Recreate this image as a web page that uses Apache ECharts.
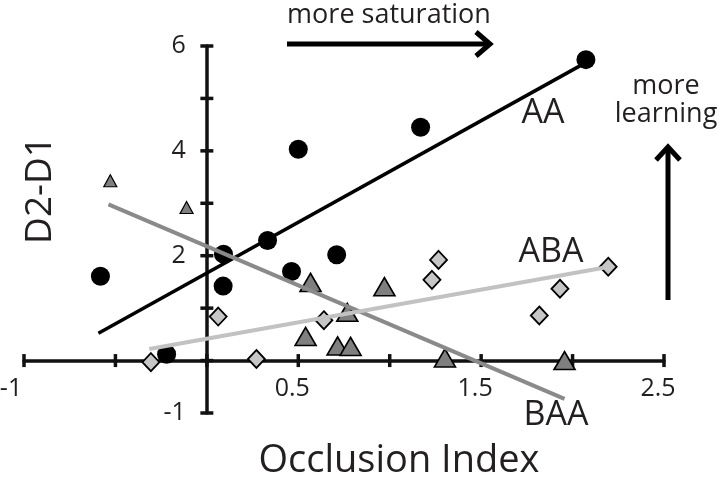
<!DOCTYPE html>
<html>
<head>
<meta charset="utf-8">
<script src="https://cdn.jsdelivr.net/npm/echarts@6/dist/echarts.min.js"></script>
<style>
  html, body { margin: 0; padding: 0; background: #fff; }
  #chart { width: 720px; height: 482px; }
</style>
</head>
<body>
<div id="chart"></div>
<script>
// ---- data ----
const xTicks = [-1, -0.5, 0, 0.5, 1, 1.5, 2, 2.5];
const xTickLabels = ['-1', '0.5', '1.5', '2.5'];
const yTicks = [-1, 0, 1, 2, 3, 4, 5, 6];
const yTickLabels = ['6', '4', '2', '-1'];

// AA (black circles)
const aaPoints = [
  [-0.582, 1.61], [-0.220, 0.12], [0.091, 2.03], [0.089, 1.42], [0.332, 2.29],
  [0.500, 4.03], [0.463, 1.70], [0.710, 2.02], [1.169, 4.45], [2.073, 5.74]
];
// BAA (dark grey triangles)
const baaOutliers = [[-0.528, 3.43], [-0.111, 2.92]];
const baaPoints = [
  [0.567, 1.49], [0.971, 1.41], [0.768, 0.92], [0.540, 0.46], [0.715, 0.28],
  [0.786, 0.27], [1.302, 0.05], [1.956, 0.00]
];
// ABA (light grey diamonds)
const abaPoints = [
  [-0.306, -0.03], [0.062, 0.84], [0.271, 0.03], [0.640, 0.77], [1.267, 1.92],
  [1.231, 1.54], [2.195, 1.79], [1.931, 1.37], [1.818, 0.86]
];
// regression line end points
const aaFit = [[-0.593, 0.52], [2.05, 5.64]];
const baaFit = [[-0.538, 2.98], [1.956, -0.73]];
const abaFit = [[-0.315, 0.22], [2.17, 1.77]];

const seriesNames = ['AA', 'ABA', 'BAA'];
const xTitle = 'Occlusion Index';
const yTitle = 'D2-D1';
const noteX = 'more saturation';
const noteY = 'more\nlearning';

// ---- chart ----
const FONT = 'Open Sans';
const TXT = '#231f20';
const AX = '#111';

const X_MIN = -1, X_MAX = 2.5, Y_MIN = -1, Y_MAX = 6;
const G = { left: 24, top: 46, width: 640, height: 367 };
// move the axes so they cross at the origin
const yAxisOffset = -G.width * (0 - X_MIN) / (X_MAX - X_MIN);
const xAxisOffset = -G.height * (0 - Y_MIN) / (Y_MAX - Y_MIN);

const chart = echarts.init(document.getElementById('chart'), null, { renderer: 'canvas' });

function tickSeries(vals, isX) {
  return {
    type: 'custom',
    silent: true,
    z: 1,
    clip: false,
    data: vals.map(v => isX ? [v, 0] : [0, v]),
    renderItem: function (params, api) {
      const p = api.coord([api.value(0), api.value(1)]);
      const h = 6.5;
      return {
        type: 'line',
        shape: isX ? { x1: p[0], y1: p[1] - h, x2: p[0], y2: p[1] + h }
                   : { x1: p[0] - h, y1: p[1], x2: p[0] + h, y2: p[1] },
        style: { stroke: AX, lineWidth: 3.5 }
      };
    }
  };
}

function fmtX(v) {
  const s = String(v);
  if (xTickLabels.indexOf(s) < 0) return '';
  return v < 0 ? '{neg|' + s + '}' : s;
}
function fmtY(v) {
  const s = String(v);
  return yTickLabels.indexOf(s) >= 0 ? s : '';
}

const option = {
  animation: false,
  backgroundColor: '#fff',
  textStyle: { fontFamily: FONT },
  grid: Object.assign({ containLabel: false, outerBoundsMode: 'none' }, G),
  xAxis: {
    type: 'value', min: X_MIN, max: X_MAX, interval: 0.5,
    position: 'bottom', offset: xAxisOffset,
    axisLine: { show: true, onZero: false, lineStyle: { color: AX, width: 3.5 } },
    axisTick: { show: false },
    splitLine: { show: false },
    axisLabel: {
      formatter: fmtX, fontSize: 25, color: TXT, fontFamily: FONT,
      margin: 16, padding: [0, 12, 0, 0],
      rich: { neg: { fontSize: 25, color: TXT, fontFamily: FONT, padding: [0, 14, 0, 0] } }
    },
    name: xTitle, nameLocation: 'middle', nameGap: 82,
    nameTextStyle: { fontSize: 38, color: TXT, fontFamily: FONT, padding: [0, 0, 0, 110] }
  },
  yAxis: {
    type: 'value', min: Y_MIN, max: Y_MAX, interval: 1,
    position: 'left', offset: yAxisOffset,
    axisLine: { show: true, onZero: false, lineStyle: { color: AX, width: 3.5 } },
    axisTick: { show: false },
    splitLine: { show: false },
    axisLabel: {
      formatter: fmtY, fontSize: 25, color: TXT, fontFamily: FONT, margin: 21
    },
    name: yTitle, nameLocation: 'middle', nameGap: 148,
    nameTextStyle: { fontSize: 37, color: TXT, fontFamily: FONT, padding: [0, 0, 0, 79] }
  },
  series: [
    tickSeries(xTicks, true),
    tickSeries(yTicks, false),
    {
      name: seriesNames[0], type: 'scatter', z: 2, symbol: 'circle', symbolSize: 19,
      itemStyle: { color: '#000', opacity: 1 }, data: aaPoints
    },
    {
      name: seriesNames[2], type: 'scatter', z: 2, symbol: 'triangle', symbolSize: [13, 12],
      itemStyle: { color: '#7f7f7f', borderColor: '#000', borderWidth: 1.2, opacity: 1 }, data: baaOutliers
    },
    {
      name: seriesNames[2], type: 'scatter', z: 2, symbol: 'triangle', symbolSize: [21, 18],
      itemStyle: { color: '#7f7f7f', borderColor: '#000', borderWidth: 1.6, opacity: 1 }, data: baaPoints
    },
    {
      name: seriesNames[1], type: 'scatter', z: 2, symbol: 'diamond', symbolSize: [17, 18],
      itemStyle: { color: '#c6c6c6', borderColor: '#000', borderWidth: 1.8, opacity: 1 }, data: abaPoints
    },
    {
      name: seriesNames[0] + ' fit', type: 'line', z: 3, symbol: 'none', data: aaFit,
      lineStyle: { color: '#000', width: 3.5 }
    },
    {
      name: seriesNames[2] + ' fit', type: 'line', z: 3, symbol: 'none', data: baaFit,
      lineStyle: { color: '#8a8a8a', width: 4 }
    },
    {
      name: seriesNames[1] + ' fit', type: 'line', z: 3, symbol: 'none', data: abaFit,
      lineStyle: { color: '#c2c2c2', width: 4 }
    }
  ],
  graphic: [
    { type: 'text', x: 389, y: 15, style: { text: noteX, fill: TXT, font: '27px "Open Sans"', align: 'center', verticalAlign: 'middle' } },
    { type: 'line', shape: { x1: 287, y1: 44, x2: 489, y2: 44 }, style: { stroke: '#000', lineWidth: 5 } },
    { type: 'polyline', shape: { points: [[476, 32], [490, 44], [476, 56]] }, style: { stroke: '#000', lineWidth: 5, fill: null } },
    { type: 'text', x: 666, y: 100, style: { text: noteY, fill: TXT, font: '27px "Open Sans"', lineHeight: 28, align: 'center', verticalAlign: 'middle' } },
    { type: 'line', shape: { x1: 668, y1: 300, x2: 668, y2: 149 }, style: { stroke: '#000', lineWidth: 5 } },
    { type: 'polyline', shape: { points: [[656, 160], [668, 147], [680, 160]] }, style: { stroke: '#000', lineWidth: 5, fill: null } },
    { type: 'text', x: 543, y: 113, style: { text: seriesNames[0], fill: TXT, font: '34px "Open Sans"', align: 'center', verticalAlign: 'middle' } },
    { type: 'text', x: 551, y: 252, style: { text: seriesNames[1], fill: TXT, font: '34px "Open Sans"', align: 'center', verticalAlign: 'middle' } },
    { type: 'text', x: 556, y: 415, style: { text: seriesNames[2], fill: TXT, font: '34px "Open Sans"', align: 'center', verticalAlign: 'middle' } }
  ]
};
chart.setOption(option);
</script>
</body>
</html>
